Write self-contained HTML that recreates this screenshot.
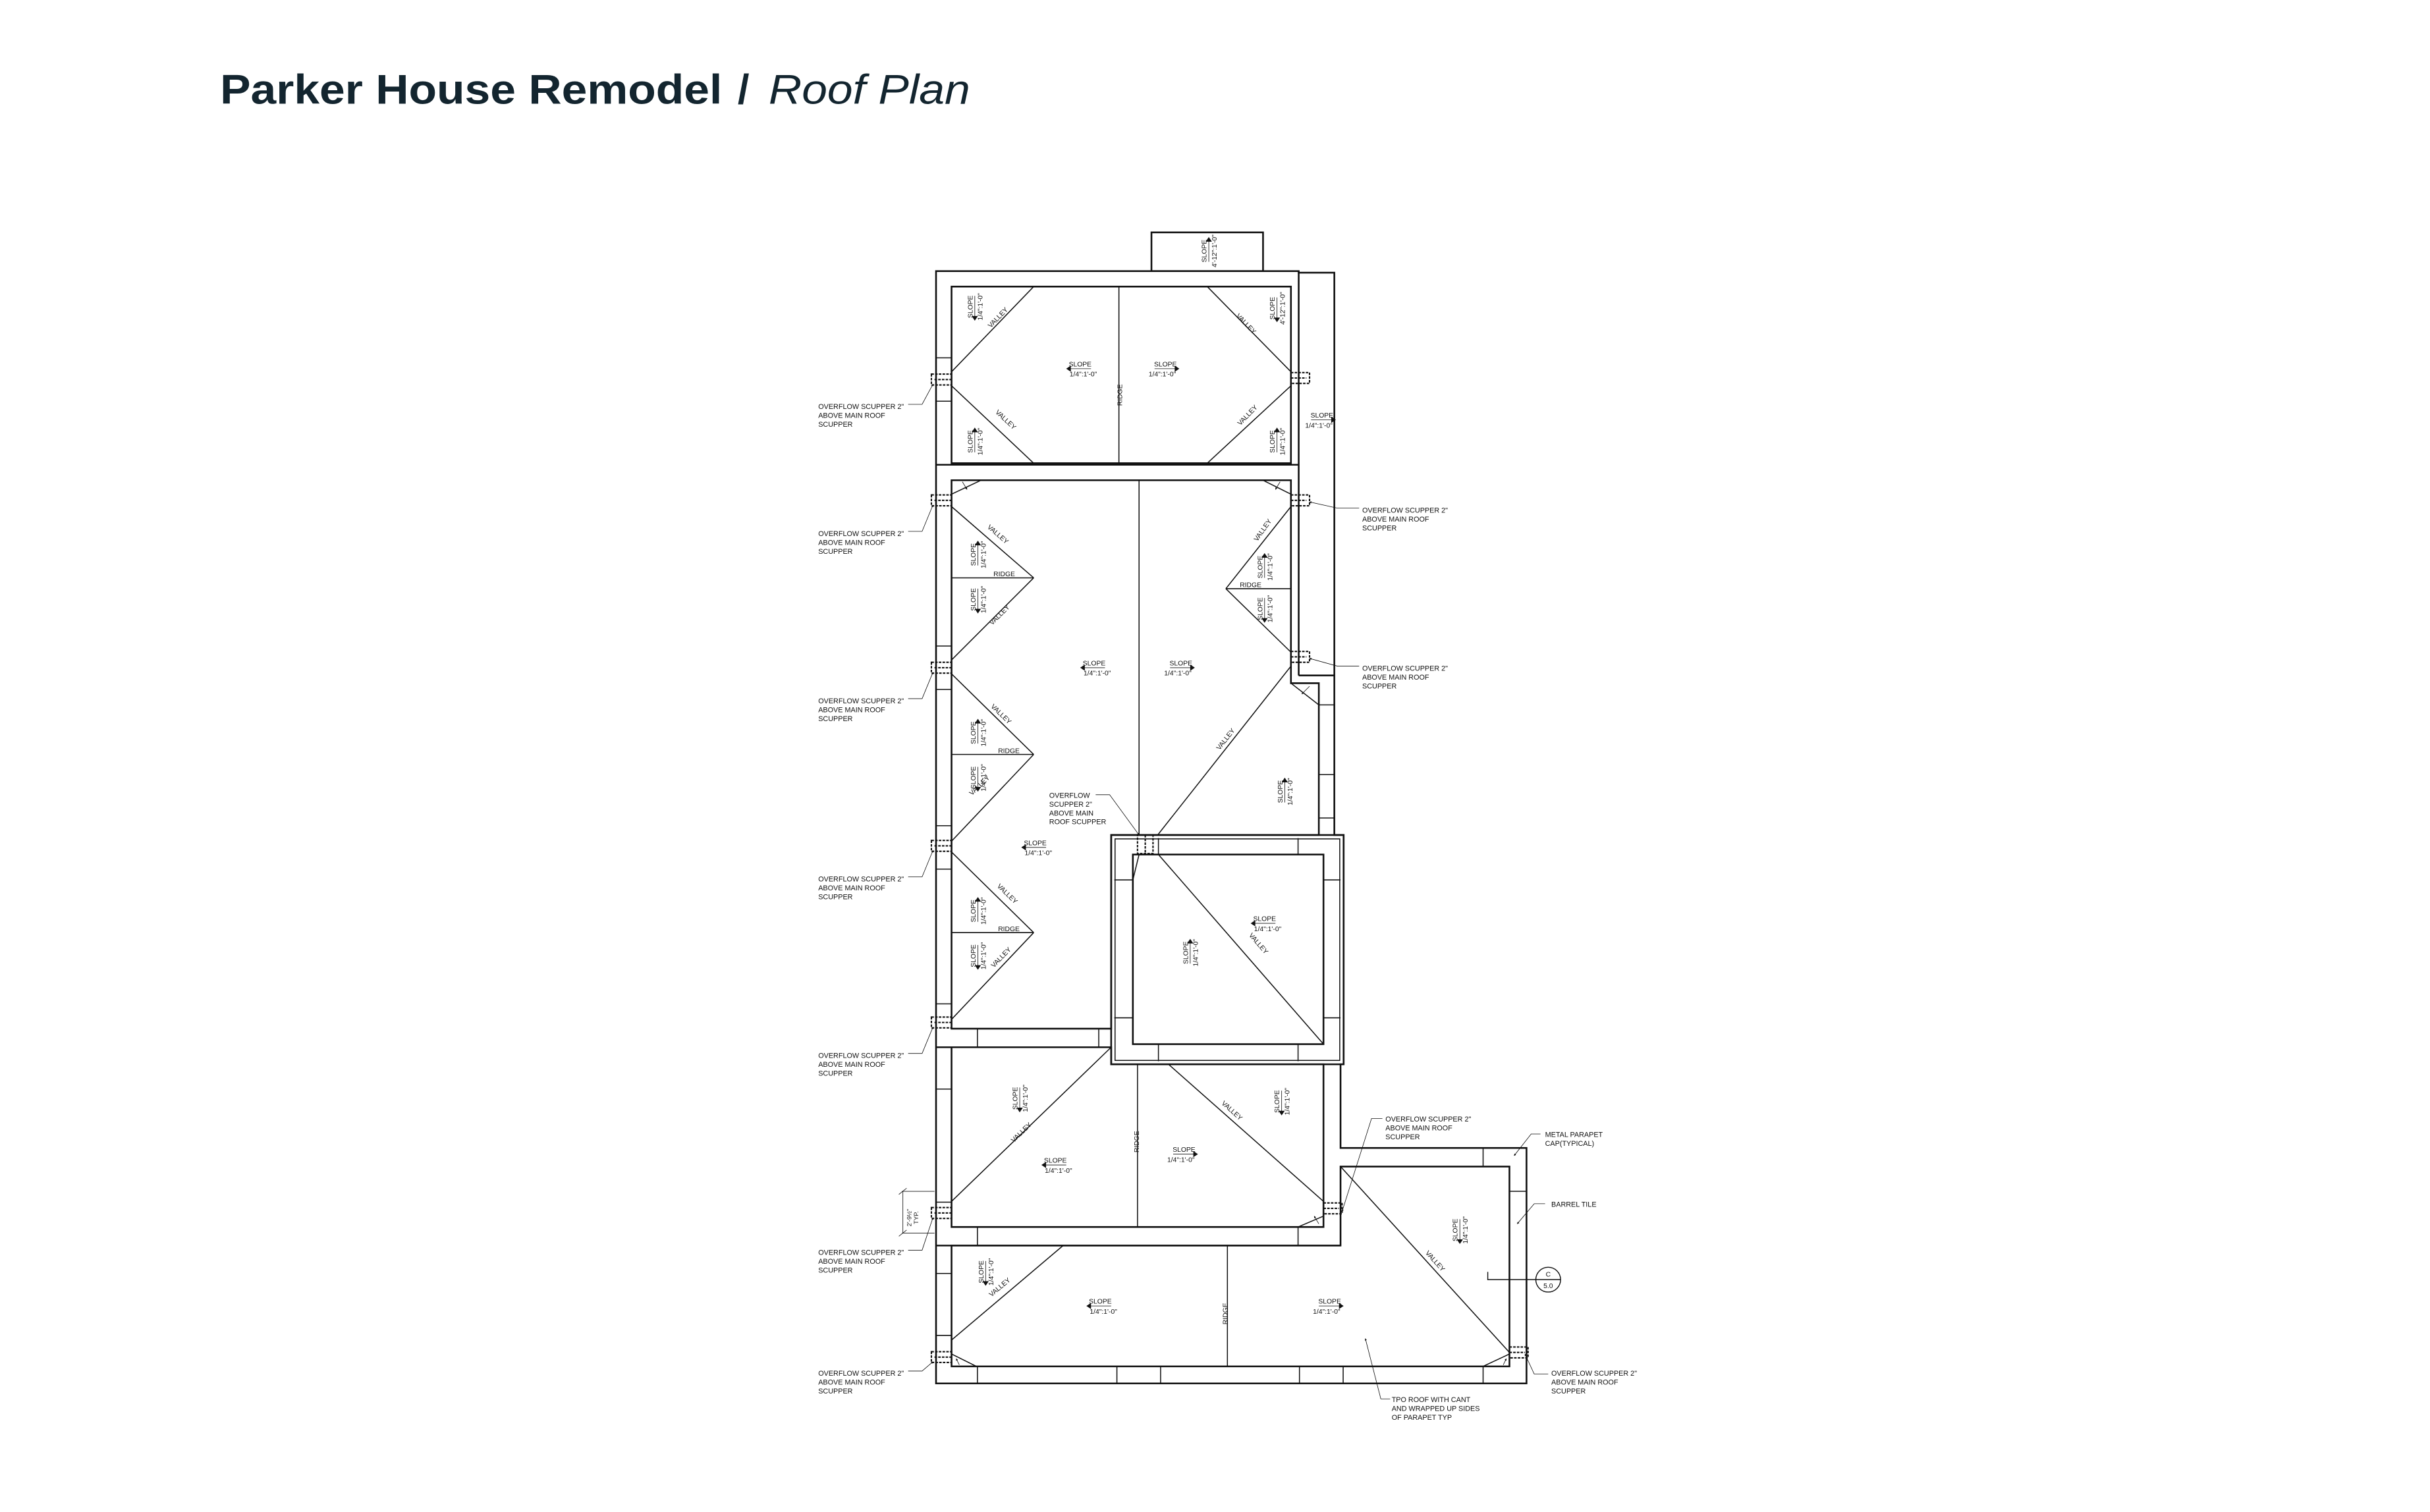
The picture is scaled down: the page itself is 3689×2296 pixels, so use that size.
<!DOCTYPE html>
<html><head><meta charset="utf-8"><style>
html,body{margin:0;padding:0;background:#fff;}
svg{display:block;}
.t{font-family:"Liberation Sans",sans-serif;font-size:4.4px;fill:#111;text-anchor:middle;}
.l{font-family:"Liberation Sans",sans-serif;font-size:4.6px;fill:#111;}
.w{stroke:#111;stroke-width:1.1;fill:none;}
.n{stroke:#111;stroke-width:0.65;fill:none;}
.h{stroke:#111;stroke-width:0.35;fill:none;}
.sc{stroke:#111;stroke-width:0.9;fill:none;stroke-dasharray:1.6 0.8;}
</style></head><body>
<svg width="3689" height="2296" viewBox="0 0 1568 976" preserveAspectRatio="none" xmlns="http://www.w3.org/2000/svg">
<defs>
<marker id="ar" viewBox="0 0 10 10" refX="9" refY="5" markerWidth="4" markerHeight="4" orient="auto"><path d="M0 0L10 5L0 10z" fill="#111"/></marker>
</defs>
<g font-family="Liberation Sans, sans-serif" font-size="27" fill="#13252f">
<text x="142" y="67" font-weight="bold" textLength="324" lengthAdjust="spacingAndGlyphs">Parker House Remodel</text>
<text x="476" y="67" font-weight="bold">/</text>
<text x="496" y="67" font-style="italic" textLength="130" lengthAdjust="spacingAndGlyphs">Roof Plan</text>
</g>

<rect x="743" y="150" width="72" height="25" class="w"/>
<path class="w" d="M604 175H838V176H861V539H867V687H865V741H985V893H604Z"/>
<line class="w" x1="838" y1="175" x2="838" y2="436"/>
<line class="w" x1="838" y1="436" x2="861" y2="436"/>
<rect x="614" y="185" width="219" height="114" class="w"/>
<line class="w" x1="604" y1="300" x2="838" y2="300"/>
<path class="w" d="M614 310H833V441H851V539H717V664H614Z"/>
<line class="n" x1="833" y1="441" x2="851" y2="455"/><line class="n" x1="851" y1="455" x2="861" y2="455"/>
<line class="w" x1="604" y1="676" x2="717" y2="676"/>
<path class="w" d="M614 676H717V687H854V792H614Z"/>
<line class="w" x1="604" y1="804" x2="865" y2="804"/>
<path class="w" d="M614 804H865V753H974V882H614Z"/>
<rect x="717" y="539" width="150" height="148" class="w"/>
<rect x="719.5" y="541.5" width="145" height="143" class="n"/>
<rect x="731" y="551.6" width="123" height="122.4" class="w"/>
<g class="n">
<line x1="719" y1="568" x2="731" y2="568"/><line x1="719" y1="657" x2="731" y2="657"/>
<line x1="854" y1="568" x2="865" y2="568"/><line x1="854" y1="657" x2="865" y2="657"/>
<line x1="747.5" y1="541" x2="747.5" y2="551.6"/><line x1="837.6" y1="541" x2="837.6" y2="551.6"/>
<line x1="747.5" y1="674" x2="747.5" y2="685"/><line x1="837.6" y1="674" x2="837.6" y2="685"/>
<line x1="747.5" y1="551.6" x2="854" y2="674"/>
<line x1="731" y1="568" x2="735" y2="551.6"/>
<line x1="630.7" y1="664" x2="630.7" y2="676"/><line x1="709" y1="664" x2="709" y2="676"/>
<line x1="630.7" y1="792" x2="630.7" y2="804"/><line x1="837.6" y1="792" x2="837.6" y2="804"/>
<line x1="957" y1="741" x2="957" y2="753"/><line x1="974" y1="769" x2="985" y2="769"/>
<line x1="630.7" y1="882" x2="630.7" y2="893"/><line x1="720.7" y1="882" x2="720.7" y2="893"/>
<line x1="748.9" y1="882" x2="748.9" y2="893"/><line x1="838.5" y1="882" x2="838.5" y2="893"/>
<line x1="866.7" y1="882" x2="866.7" y2="893"/><line x1="957" y1="882" x2="957" y2="893"/>
<line x1="851" y1="455" x2="851" y2="539"/>
<line x1="851" y1="500" x2="861" y2="500"/><line x1="851" y1="528" x2="861" y2="528"/>
<line x1="604" y1="231" x2="614" y2="231"/><line x1="604" y1="259" x2="614" y2="259"/>
<line x1="604" y1="417" x2="614" y2="417"/><line x1="604" y1="445" x2="614" y2="445"/>
<line x1="604" y1="533" x2="614" y2="533"/><line x1="604" y1="561" x2="614" y2="561"/>
<line x1="604" y1="648" x2="614" y2="648"/><line x1="604" y1="703" x2="614" y2="703"/>
<line x1="604" y1="776" x2="614" y2="776"/><line x1="604" y1="822" x2="614" y2="822"/>
<line x1="604" y1="862" x2="614" y2="862"/>
<line x1="722" y1="185" x2="722" y2="299"/>
<line x1="667" y1="185" x2="614" y2="240"/><line x1="614" y1="249" x2="667" y2="299"/>
<line x1="779" y1="185" x2="833" y2="240"/><line x1="833" y1="249" x2="779" y2="299"/>
<line x1="735" y1="310" x2="735" y2="539"/>
<line x1="614" y1="327" x2="667" y2="373"/><line x1="614" y1="373" x2="667" y2="373"/><line x1="667" y1="373" x2="614" y2="426"/>
<line x1="614" y1="435" x2="667" y2="487"/><line x1="614" y1="487" x2="667" y2="487"/><line x1="667" y1="487" x2="614" y2="543"/>
<line x1="614" y1="550" x2="667" y2="602"/><line x1="614" y1="602" x2="667" y2="602"/><line x1="667" y1="602" x2="614" y2="658"/>
<line x1="833" y1="327" x2="791" y2="380"/><line x1="791" y1="380" x2="833" y2="380"/><line x1="791" y1="380" x2="833" y2="421"/>
<line x1="833" y1="430" x2="747" y2="539"/>
<line x1="614" y1="319" x2="633" y2="310"/><line x1="833" y1="319" x2="815" y2="310"/>
<line x1="734" y1="687" x2="734" y2="792"/>
<line x1="717" y1="676" x2="614" y2="775.5"/>
<line x1="754" y1="687" x2="854" y2="775.5"/>
<line x1="837.6" y1="792" x2="854" y2="785"/>
<line x1="792" y1="804" x2="792" y2="882"/>
<line x1="686" y1="804" x2="614" y2="865"/>
<line x1="865" y1="753" x2="974" y2="873"/>
<line x1="614" y1="874" x2="630" y2="882"/><line x1="957" y1="882" x2="974" y2="874"/>
</g>
<g class="h" marker-end="url(#ar)">
<line x1="621" y1="311" x2="624" y2="316"/><line x1="826" y1="311" x2="823" y2="316"/>
<line x1="845" y1="443" x2="840" y2="448"/>
<line x1="851" y1="790" x2="848" y2="785"/>
<line x1="619" y1="881" x2="617" y2="877"/><line x1="970" y1="881" x2="972" y2="877"/>
</g>
<g class="sc">
<rect x="601" y="241.5" width="13" height="7"/><line x1="603" y1="245" x2="614" y2="245"/>
<rect x="601" y="319.5" width="13" height="7"/><line x1="603" y1="323" x2="614" y2="323"/>
<rect x="601" y="427.5" width="13" height="7"/><line x1="603" y1="431" x2="614" y2="431"/>
<rect x="601" y="542.5" width="13" height="7"/><line x1="603" y1="546" x2="614" y2="546"/>
<rect x="601" y="656.5" width="13" height="7"/><line x1="603" y1="660" x2="614" y2="660"/>
<rect x="601" y="779.5" width="13" height="7"/><line x1="603" y1="783" x2="614" y2="783"/>
<rect x="601" y="872.5" width="13" height="7"/><line x1="603" y1="876" x2="614" y2="876"/>
<rect x="833" y="240.5" width="12" height="7"/><line x1="833" y1="244" x2="843" y2="244"/>
<rect x="833" y="319.5" width="12" height="7"/><line x1="833" y1="323" x2="843" y2="323"/>
<rect x="833" y="420.5" width="12" height="7"/><line x1="833" y1="424" x2="843" y2="424"/>
<rect x="854" y="776.5" width="12" height="7"/><line x1="854" y1="780" x2="864" y2="780"/>
<rect x="974" y="869.5" width="12" height="7"/><line x1="974" y1="873" x2="984" y2="873"/>
<rect x="734" y="539" width="10" height="12"/><line x1="739" y1="539" x2="739" y2="551"/>
</g>
<g class="h" marker-end="url(#ar)">
<polyline points="586,261 595,261 602,248"/>
<polyline points="586,343 595,343 602,326"/>
<polyline points="586,451 595,451 602,434"/>
<polyline points="586,566 595,566 602,549"/>
<polyline points="586,680 595,680 602,663"/>
<polyline points="586,807 595,807 602,786"/>
<polyline points="586,885 595,885 602,879"/>
<polyline points="877,328 863,328 845,324"/>
<polyline points="877,430 863,430 845,425"/>
<polyline points="707,513 716,513 735,539"/>
<polyline points="892,722 885,722 866,782"/>
<polyline points="994,732 988,732 977,746"/>
<polyline points="997,777 990,777 979,790"/>
<polyline points="999,887 990,887 984,874"/>
<polyline points="897,903 891,903 881,864"/>
</g>
<g class="h"><line x1="582.6" y1="769" x2="582.6" y2="796"/><line x1="582" y1="769" x2="603" y2="769"/><line x1="582" y1="796" x2="603" y2="796"/>
<line x1="580" y1="771" x2="585" y2="767"/><line x1="580" y1="798" x2="585" y2="794"/></g>
<text class="t" transform="translate(588,786) rotate(-90)" style="font-size:4px">2'-9½"<tspan x="0" dy="4.5">TYP.</tspan></text>
<g class="h" style="stroke-width:0.6"><polyline points="960,821 960,826 991,826"/><circle cx="999" cy="826" r="8"/><line x1="991" y1="826" x2="1007" y2="826"/></g>
<text class="t" x="999" y="824">C</text><text class="t" x="999" y="831.5">5.0</text>

<g class="l">
<text x="528" y="264">OVERFLOW SCUPPER 2"<tspan x="528" dy="5.7">ABOVE MAIN ROOF</tspan><tspan x="528" dy="5.7">SCUPPER</tspan></text>
<text x="528" y="346">OVERFLOW SCUPPER 2"<tspan x="528" dy="5.7">ABOVE MAIN ROOF</tspan><tspan x="528" dy="5.7">SCUPPER</tspan></text>
<text x="528" y="454">OVERFLOW SCUPPER 2"<tspan x="528" dy="5.7">ABOVE MAIN ROOF</tspan><tspan x="528" dy="5.7">SCUPPER</tspan></text>
<text x="528" y="569">OVERFLOW SCUPPER 2"<tspan x="528" dy="5.7">ABOVE MAIN ROOF</tspan><tspan x="528" dy="5.7">SCUPPER</tspan></text>
<text x="528" y="683">OVERFLOW SCUPPER 2"<tspan x="528" dy="5.7">ABOVE MAIN ROOF</tspan><tspan x="528" dy="5.7">SCUPPER</tspan></text>
<text x="528" y="810">OVERFLOW SCUPPER 2"<tspan x="528" dy="5.7">ABOVE MAIN ROOF</tspan><tspan x="528" dy="5.7">SCUPPER</tspan></text>
<text x="528" y="888">OVERFLOW SCUPPER 2"<tspan x="528" dy="5.7">ABOVE MAIN ROOF</tspan><tspan x="528" dy="5.7">SCUPPER</tspan></text>
<text x="879" y="331">OVERFLOW SCUPPER 2"<tspan x="879" dy="5.7">ABOVE MAIN ROOF</tspan><tspan x="879" dy="5.7">SCUPPER</tspan></text>
<text x="879" y="433">OVERFLOW SCUPPER 2"<tspan x="879" dy="5.7">ABOVE MAIN ROOF</tspan><tspan x="879" dy="5.7">SCUPPER</tspan></text>
<text x="677" y="515">OVERFLOW<tspan x="677" dy="5.7">SCUPPER 2"</tspan><tspan x="677" dy="5.7">ABOVE MAIN</tspan><tspan x="677" dy="5.7">ROOF SCUPPER</tspan></text>
<text x="894" y="724">OVERFLOW SCUPPER 2"<tspan x="894" dy="5.7">ABOVE MAIN ROOF</tspan><tspan x="894" dy="5.7">SCUPPER</tspan></text>
<text x="997" y="734">METAL PARAPET<tspan x="997" dy="5.7">CAP(TYPICAL)</tspan></text>
<text x="1001" y="779">BARREL TILE</text>
<text x="1001" y="888">OVERFLOW SCUPPER 2"<tspan x="1001" dy="5.7">ABOVE MAIN ROOF</tspan><tspan x="1001" dy="5.7">SCUPPER</tspan></text>
<text x="898" y="905">TPO ROOF WITH CANT<tspan x="898" dy="5.7">AND WRAPPED UP SIDES</tspan><tspan x="898" dy="5.7">OF PARAPET TYP</tspan></text>
</g>

<g class="t">
<text transform="translate(724,255) rotate(-90)">RIDGE</text>
<text transform="translate(735,737) rotate(-90)">RIDGE</text>
<text transform="translate(792,848) rotate(-90)">RIDGE</text>
<text x="648" y="372">RIDGE</text><text x="651" y="486">RIDGE</text><text x="651" y="601">RIDGE</text><text x="807" y="379">RIDGE</text>
<text transform="translate(645,206) rotate(-46)">VALLEY</text>
<text transform="translate(648,272) rotate(43)">VALLEY</text>
<text transform="translate(803,210) rotate(46)">VALLEY</text>
<text transform="translate(806,269) rotate(-46)">VALLEY</text>
<text transform="translate(643,346) rotate(41)">VALLEY</text>
<text transform="translate(646,398) rotate(-45)">VALLEY</text>
<text transform="translate(645,462) rotate(44)">VALLEY</text>
<text transform="translate(633,508) rotate(-44)">VALLEY</text>
<text transform="translate(649,578) rotate(44)">VALLEY</text>
<text transform="translate(647,619) rotate(-46)">VALLEY</text>
<text transform="translate(816,343) rotate(-55)">VALLEY</text>
<text transform="translate(792,478) rotate(-52)">VALLEY</text>
<text transform="translate(811,610) rotate(49)">VALLEY</text>
<text transform="translate(660,732) rotate(-44)">VALLEY</text>
<text transform="translate(794,718) rotate(42)">VALLEY</text>
<text transform="translate(646,832) rotate(-40)">VALLEY</text>
<text transform="translate(925,815) rotate(48)">VALLEY</text>
</g>

<g class="t">
<g transform="translate(697,238)"><text y="-1.5">SLOPE</text><line class="h" x1="-7" x2="7" y1="0" y2="0"/><path d="M-9 0l3-2v4z"/><text x="2" y="5">1/4":1'-0"</text></g>
<g transform="translate(752,238)"><text y="-1.5">SLOPE</text><line class="h" x1="-7" x2="7" y1="0" y2="0"/><path d="M9 0l-3-2v4z"/><text x="-2" y="5">1/4":1'-0"</text></g>
<g transform="translate(853,271)"><text y="-1.5">SLOPE</text><line class="h" x1="-7" x2="7" y1="0" y2="0"/><path d="M9 0l-3-2v4z"/><text x="-2" y="5">1/4":1'-0"</text></g>
<g transform="translate(706,431)"><text y="-1.5">SLOPE</text><line class="h" x1="-7" x2="7" y1="0" y2="0"/><path d="M-9 0l3-2v4z"/><text x="2" y="5">1/4":1'-0"</text></g>
<g transform="translate(762,431)"><text y="-1.5">SLOPE</text><line class="h" x1="-7" x2="7" y1="0" y2="0"/><path d="M9 0l-3-2v4z"/><text x="-2" y="5">1/4":1'-0"</text></g>
<g transform="translate(668,547)"><text y="-1.5">SLOPE</text><line class="h" x1="-7" x2="7" y1="0" y2="0"/><path d="M-9 0l3-2v4z"/><text x="2" y="5">1/4":1'-0"</text></g>
<g transform="translate(816,596)"><text y="-1.5">SLOPE</text><line class="h" x1="-7" x2="7" y1="0" y2="0"/><path d="M-9 0l3-2v4z"/><text x="2" y="5">1/4":1'-0"</text></g>
<g transform="translate(681,752)"><text y="-1.5">SLOPE</text><line class="h" x1="-7" x2="7" y1="0" y2="0"/><path d="M-9 0l3-2v4z"/><text x="2" y="5">1/4":1'-0"</text></g>
<g transform="translate(764,745)"><text y="-1.5">SLOPE</text><line class="h" x1="-7" x2="7" y1="0" y2="0"/><path d="M9 0l-3-2v4z"/><text x="-2" y="5">1/4":1'-0"</text></g>
<g transform="translate(710,843)"><text y="-1.5">SLOPE</text><line class="h" x1="-7" x2="7" y1="0" y2="0"/><path d="M-9 0l3-2v4z"/><text x="2" y="5">1/4":1'-0"</text></g>
<g transform="translate(858,843)"><text y="-1.5">SLOPE</text><line class="h" x1="-7" x2="7" y1="0" y2="0"/><path d="M9 0l-3-2v4z"/><text x="-2" y="5">1/4":1'-0"</text></g>
<g transform="translate(629,198) rotate(-90)"><text y="-1.5">SLOPE</text><line class="h" x1="-7" x2="7" y1="0" y2="0"/><path d="M-9 0l3-2v4z"/><text y="5">1/4":1'-0"</text></g>
<g transform="translate(629,285) rotate(-90)"><text y="-1.5">SLOPE</text><line class="h" x1="-7" x2="7" y1="0" y2="0"/><path d="M9 0l-3-2v4z"/><text y="5">1/4":1'-0"</text></g>
<g transform="translate(824,199) rotate(-90)"><text y="-1.5">SLOPE</text><line class="h" x1="-7" x2="7" y1="0" y2="0"/><path d="M-9 0l3-2v4z"/><text y="5">4'-12":1'-0"</text></g>
<g transform="translate(824,285) rotate(-90)"><text y="-1.5">SLOPE</text><line class="h" x1="-7" x2="7" y1="0" y2="0"/><path d="M9 0l-3-2v4z"/><text y="5">1/4":1'-0"</text></g>
<g transform="translate(780,162) rotate(-90)"><text y="-1.5">SLOPE</text><line class="h" x1="-7" x2="7" y1="0" y2="0"/><path d="M9 0l-3-2v4z"/><text y="5">4'-12":1'-0"</text></g>
<g transform="translate(631,358) rotate(-90)"><text y="-1.5">SLOPE</text><line class="h" x1="-7" x2="7" y1="0" y2="0"/><path d="M9 0l-3-2v4z"/><text y="5">1/4":1'-0"</text></g>
<g transform="translate(631,387) rotate(-90)"><text y="-1.5">SLOPE</text><line class="h" x1="-7" x2="7" y1="0" y2="0"/><path d="M-9 0l3-2v4z"/><text y="5">1/4":1'-0"</text></g>
<g transform="translate(631,473) rotate(-90)"><text y="-1.5">SLOPE</text><line class="h" x1="-7" x2="7" y1="0" y2="0"/><path d="M9 0l-3-2v4z"/><text y="5">1/4":1'-0"</text></g>
<g transform="translate(631,502) rotate(-90)"><text y="-1.5">SLOPE</text><line class="h" x1="-7" x2="7" y1="0" y2="0"/><path d="M-9 0l3-2v4z"/><text y="5">1/4":1'-0"</text></g>
<g transform="translate(631,588) rotate(-90)"><text y="-1.5">SLOPE</text><line class="h" x1="-7" x2="7" y1="0" y2="0"/><path d="M9 0l-3-2v4z"/><text y="5">1/4":1'-0"</text></g>
<g transform="translate(631,617) rotate(-90)"><text y="-1.5">SLOPE</text><line class="h" x1="-7" x2="7" y1="0" y2="0"/><path d="M-9 0l3-2v4z"/><text y="5">1/4":1'-0"</text></g>
<g transform="translate(816,366) rotate(-90)"><text y="-1.5">SLOPE</text><line class="h" x1="-7" x2="7" y1="0" y2="0"/><path d="M9 0l-3-2v4z"/><text y="5">1/4":1'-0"</text></g>
<g transform="translate(816,393) rotate(-90)"><text y="-1.5">SLOPE</text><line class="h" x1="-7" x2="7" y1="0" y2="0"/><path d="M-9 0l3-2v4z"/><text y="5">1/4":1'-0"</text></g>
<g transform="translate(829,511) rotate(-90)"><text y="-1.5">SLOPE</text><line class="h" x1="-7" x2="7" y1="0" y2="0"/><path d="M9 0l-3-2v4z"/><text y="5">1/4":1'-0"</text></g>
<g transform="translate(768,615) rotate(-90)"><text y="-1.5">SLOPE</text><line class="h" x1="-7" x2="7" y1="0" y2="0"/><path d="M9 0l-3-2v4z"/><text y="5">1/4":1'-0"</text></g>
<g transform="translate(658,709) rotate(-90)"><text y="-1.5">SLOPE</text><line class="h" x1="-7" x2="7" y1="0" y2="0"/><path d="M-9 0l3-2v4z"/><text y="5">1/4":1'-0"</text></g>
<g transform="translate(827,711) rotate(-90)"><text y="-1.5">SLOPE</text><line class="h" x1="-7" x2="7" y1="0" y2="0"/><path d="M-9 0l3-2v4z"/><text y="5">1/4":1'-0"</text></g>
<g transform="translate(636,821) rotate(-90)"><text y="-1.5">SLOPE</text><line class="h" x1="-7" x2="7" y1="0" y2="0"/><path d="M-9 0l3-2v4z"/><text y="5">1/4":1'-0"</text></g>
<g transform="translate(942,794) rotate(-90)"><text y="-1.5">SLOPE</text><line class="h" x1="-7" x2="7" y1="0" y2="0"/><path d="M-9 0l3-2v4z"/><text y="5">1/4":1'-0"</text></g>
</g>
</svg>
</body></html>
